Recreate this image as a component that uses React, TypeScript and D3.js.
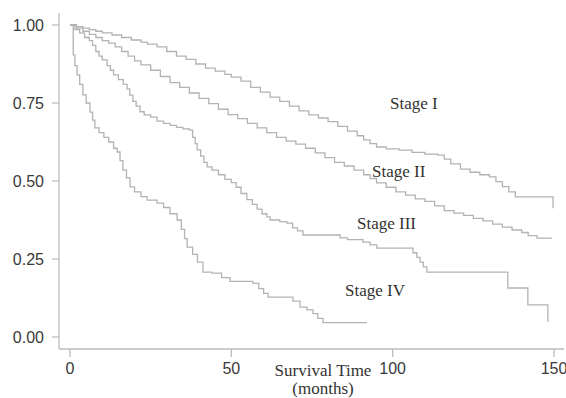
import React from "react";
import * as d3 from "d3";

type Pt = [number, number];

const stageI: Pt[] = [
  [0, 1.0], [2, 0.995], [4, 0.99], [6, 0.985], [8, 0.98], [10, 0.975], [13, 0.968], [16, 0.96],
  [19, 0.952], [22, 0.945], [24, 0.939], [27, 0.93], [30, 0.915], [33, 0.9], [36, 0.89], [39, 0.875],
  [42, 0.862], [45, 0.852], [48, 0.842], [50, 0.833], [53, 0.82], [56, 0.8], [59, 0.785], [62, 0.769],
  [65, 0.755], [68, 0.74], [71, 0.725], [74, 0.712], [77, 0.702], [80, 0.69], [83, 0.675], [86, 0.66],
  [89, 0.645], [91, 0.632], [93, 0.62], [95, 0.609], [98, 0.603], [102, 0.599], [106, 0.592],
  [110, 0.586], [114, 0.583], [116, 0.57], [118, 0.555], [121, 0.538], [124, 0.528], [127, 0.52],
  [130, 0.513], [132, 0.498], [134, 0.482], [136, 0.465], [138, 0.449], [149.7, 0.413],
];

const stageII: Pt[] = [
  [0, 1], [2, 0.99], [4, 0.98], [6, 0.97], [8, 0.96], [10, 0.95], [12, 0.942], [14, 0.93], [16, 0.915],
  [18, 0.9], [20, 0.885], [22, 0.872], [25, 0.855], [28, 0.835], [31, 0.815], [34, 0.8], [37, 0.782],
  [40, 0.765], [43, 0.748], [46, 0.73], [49, 0.713], [52, 0.7], [55, 0.685], [58, 0.67], [61, 0.655],
  [64, 0.64], [67, 0.628], [70, 0.618], [73, 0.605], [76, 0.59], [79, 0.575], [82, 0.56], [85, 0.548],
  [88, 0.535], [91, 0.52], [93, 0.508], [95, 0.494], [98, 0.48], [101, 0.465], [104, 0.455],
  [107, 0.443], [110, 0.435], [113, 0.42], [116, 0.405], [119, 0.397], [122, 0.39], [125, 0.38],
  [128, 0.372], [131, 0.362], [134, 0.352], [137, 0.343], [140, 0.335], [142, 0.325], [144.7, 0.317],
  [149.4, 0.317],
];

const stageIII: Pt[] = [
  [0, 1], [1.5, 0.985], [3, 0.975], [4.5, 0.96], [6, 0.95], [7, 0.935], [8, 0.915], [9, 0.9],
  [10, 0.888], [11.5, 0.87], [12.5, 0.855], [13.5, 0.84], [15, 0.825], [16.5, 0.81], [17.7, 0.795],
  [18.5, 0.775], [19.5, 0.755], [20.5, 0.74], [21.7, 0.722], [23, 0.712], [25, 0.705], [27, 0.692],
  [29, 0.685], [31, 0.678], [33, 0.672], [35, 0.667], [37, 0.663], [38, 0.64], [38.8, 0.62],
  [39.4, 0.6], [40.5, 0.58], [41.5, 0.56], [42.5, 0.545], [44, 0.535], [46, 0.52], [48, 0.505],
  [50, 0.495], [51.5, 0.48], [53, 0.46], [54.8, 0.44], [56.5, 0.425], [58, 0.41], [59.5, 0.395],
  [61, 0.385], [62, 0.375], [65, 0.37], [67.2, 0.365], [69, 0.35], [70.5, 0.34], [72.2, 0.327],
  [83.7, 0.318], [86, 0.312], [90.8, 0.304], [93, 0.295], [95.1, 0.285], [106.3, 0.27],
  [107.5, 0.255], [108.5, 0.24], [109.5, 0.225], [110.6, 0.208], [135.7, 0.157], [141.9, 0.103],
  [148.1, 0.048],
];

const stageIV: Pt[] = [
  [0, 1], [1, 0.904], [1.5, 0.87], [2.2, 0.84], [3, 0.81], [4, 0.776], [5, 0.75], [6.2, 0.721],
  [7, 0.695], [7.7, 0.67], [9, 0.655], [10.5, 0.64], [12, 0.625], [13.5, 0.605], [14.6, 0.593],
  [15.5, 0.565], [16.4, 0.535], [17.5, 0.51], [18.6, 0.481], [20, 0.465], [22, 0.45], [23.9, 0.439],
  [27, 0.429], [29, 0.415], [31, 0.395], [33.2, 0.375], [34.5, 0.345], [35.5, 0.315], [36.3, 0.288],
  [38, 0.265], [39.5, 0.24], [41.2, 0.208], [44, 0.205], [47, 0.19], [49.6, 0.178], [56.7, 0.172],
  [58.5, 0.155], [60, 0.14], [61.4, 0.128], [69.1, 0.115], [71.3, 0.096], [73.4, 0.087],
  [75.3, 0.075], [76.8, 0.06], [78.4, 0.046], [92, 0.046],
];

const series = [stageI, stageII, stageIII, stageIV];
const stageLabels = ["Stage I", "Stage II", "Stage III", "Stage IV"];
const labelPos: Pt[] = [[390, 109], [372, 177], [357, 229], [345, 296]];
const xTicks = [0, 50, 100, 150];
const yTicks = [0, 0.25, 0.5, 0.75, 1];

export default function App() {
  const x = d3.scaleLinear().domain([0, 150]).range([70, 554]);
  const y = d3.scaleLinear().domain([0, 1]).range([337, 25]);
  const line = d3
    .line<Pt>()
    .x((d) => x(d[0]))
    .y((d) => y(d[1]))
    .curve(d3.curveStepAfter);
  const axisColor = "#bdbdbd";
  const sans = "'Liberation Sans', Arial, sans-serif";
  const serif = "'Liberation Serif', 'Times New Roman', serif";
  return (
    <svg
      width={566}
      height={398}
      style={{ position: "absolute", left: 0, top: 0, background: "#fff" }}
    >
      <rect width={566} height={398} fill="#fff" />
      <line x1={59} x2={59} y1={13} y2={349} stroke={axisColor} strokeWidth={1.3} />
      <line x1={59} x2={564} y1={349} y2={349} stroke={axisColor} strokeWidth={1.3} />
      {yTicks.map((t) => (
        <g key={"y" + t}>
          <line x1={52} x2={59} y1={y(t)} y2={y(t)} stroke={axisColor} strokeWidth={1.3} />
          <text
            x={44}
            y={y(t) + 6}
            textAnchor="end"
            fontFamily={sans}
            fontSize={16}
            fill="#3a3a3a"
          >
            {t.toFixed(2)}
          </text>
        </g>
      ))}
      {xTicks.map((t) => (
        <g key={"x" + t}>
          <line x1={x(t)} x2={x(t)} y1={349} y2={357} stroke={axisColor} strokeWidth={1.3} />
          <text
            x={x(t)}
            y={374}
            textAnchor="middle"
            fontFamily={sans}
            fontSize={16}
            fill="#3a3a3a"
          >
            {t}
          </text>
        </g>
      ))}
      {series.map((s, i) => (
        <path key={i} d={line(s) || ""} fill="none" stroke="#b3b3b3" strokeWidth={1.3} />
      ))}
      {stageLabels.map((l, i) => (
        <text
          key={l}
          x={labelPos[i][0]}
          y={labelPos[i][1]}
          fontFamily={serif}
          fontSize={17}
          fill="#333"
        >
          {l}
        </text>
      ))}
      <text x={323} y={376} textAnchor="middle" fontFamily={serif} fontSize={17} fill="#333">
        Survival Time
      </text>
      <text x={323} y={394} textAnchor="middle" fontFamily={serif} fontSize={17} fill="#333">
        (months)
      </text>
    </svg>
  );
}
